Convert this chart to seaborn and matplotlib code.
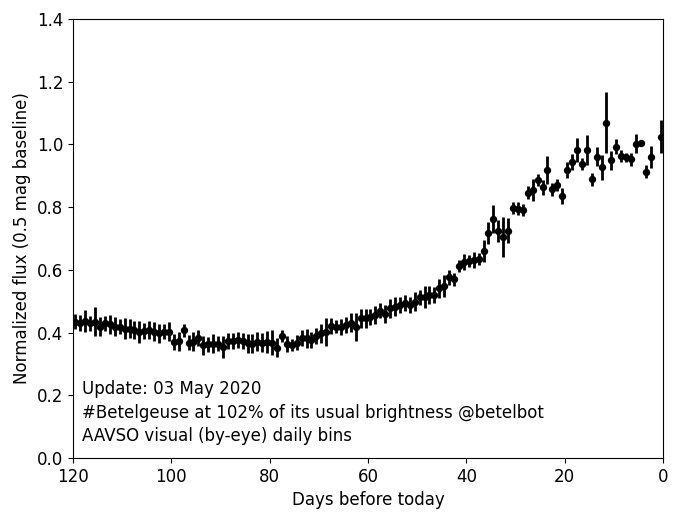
import numpy as np
import pandas as pd
import seaborn as sns
import matplotlib
matplotlib.use('Agg')
import matplotlib.pyplot as plt

# daily bins, days before today (bin centre = day + 0.5), day 1 has no data
days = [119, 118, 117, 116, 115, 114, 113, 112, 111, 110,
        109, 108, 107, 106, 105, 104, 103, 102, 101, 100,
        99, 98, 97, 96, 95, 94, 93, 92, 91, 90,
        89, 88, 87, 86, 85, 84, 83, 82, 81, 80,
        79, 78, 77, 76, 75, 74, 73, 72, 71, 70,
        69, 68, 67, 66, 65, 64, 63, 62, 61, 60,
        59, 58, 57, 56, 55, 54, 53, 52, 51, 50,
        49, 48, 47, 46, 45, 44, 43, 42, 41, 40,
        39, 38, 37, 36, 35, 34, 33, 32, 31, 30,
        29, 28, 27, 26, 25, 24, 23, 22, 21, 20,
        19, 18, 17, 16, 15, 14, 13, 12, 11, 10,
        9, 8, 7, 6, 5, 4, 3, 2, 0]

flux = [0.435, 0.431, 0.438, 0.429, 0.435, 0.419, 0.429, 0.427, 0.419, 0.419,
        0.413, 0.413, 0.408, 0.403, 0.406, 0.408, 0.403, 0.398, 0.403, 0.403,
        0.370, 0.372, 0.407, 0.368, 0.371, 0.382, 0.360, 0.362, 0.365, 0.365,
        0.355, 0.374, 0.374, 0.376, 0.374, 0.366, 0.364, 0.371, 0.368, 0.371,
        0.368, 0.352, 0.389, 0.364, 0.360, 0.368, 0.382, 0.382, 0.376, 0.389,
        0.398, 0.403, 0.421, 0.419, 0.417, 0.424, 0.432, 0.419, 0.445, 0.445,
        0.450, 0.456, 0.470, 0.459, 0.477, 0.483, 0.488, 0.495, 0.488, 0.498,
        0.512, 0.514, 0.520, 0.520, 0.541, 0.548, 0.576, 0.570, 0.612, 0.626,
        0.629, 0.631, 0.634, 0.661, 0.718, 0.761, 0.725, 0.706, 0.725, 0.797,
        0.795, 0.791, 0.846, 0.855, 0.886, 0.863, 0.918, 0.857, 0.870, 0.835,
        0.918, 0.945, 0.982, 0.937, 0.982, 0.889, 0.961, 0.927, 1.069, 0.950,
        0.993, 0.963, 0.959, 0.952, 1.003, 1.005, 0.913, 0.961, 1.025]

err = [0.025, 0.025, 0.035, 0.025, 0.045, 0.030, 0.025, 0.030, 0.030, 0.025,
       0.035, 0.030, 0.030, 0.035, 0.025, 0.030, 0.030, 0.030, 0.025, 0.030,
       0.025, 0.030, 0.020, 0.025, 0.030, 0.025, 0.030, 0.025, 0.030, 0.025,
       0.035, 0.025, 0.025, 0.025, 0.025, 0.030, 0.030, 0.030, 0.030, 0.035,
       0.040, 0.030, 0.020, 0.025, 0.020, 0.025, 0.025, 0.030, 0.025, 0.025,
       0.030, 0.045, 0.025, 0.020, 0.025, 0.025, 0.030, 0.045, 0.030, 0.030,
       0.025, 0.030, 0.025, 0.030, 0.030, 0.030, 0.025, 0.025, 0.025, 0.030,
       0.025, 0.035, 0.030, 0.025, 0.030, 0.035, 0.025, 0.020, 0.020, 0.025,
       0.020, 0.025, 0.020, 0.035, 0.035, 0.045, 0.035, 0.064, 0.040, 0.020,
       0.020, 0.020, 0.020, 0.035, 0.020, 0.025, 0.045, 0.020, 0.020, 0.025,
       0.025, 0.025, 0.037, 0.020, 0.048, 0.020, 0.030, 0.040, 0.097, 0.030,
       0.025, 0.020, 0.015, 0.020, 0.030, 0.006, 0.020, 0.035, 0.052]

update_text = ('Update: 03 May 2020\n'
               '#Betelgeuse at 102% of its usual brightness @betelbot\n'
               'AAVSO visual (by-eye) daily bins')

df = pd.DataFrame({'day': np.array(days) + 0.5, 'flux': flux, 'err': err})

sns.set_style('ticks')
plt.rcParams['font.family'] = ['DejaVu Sans']
plt.rcParams['font.size'] = 12
plt.rcParams['text.color'] = 'black'
plt.rcParams['axes.labelcolor'] = 'black'
plt.rcParams['xtick.major.size'] = 3.5
plt.rcParams['ytick.major.size'] = 3.5
plt.rcParams['xtick.major.width'] = 0.8
plt.rcParams['ytick.major.width'] = 0.8
plt.rcParams['axes.linewidth'] = 0.8
plt.rcParams['axes.edgecolor'] = 'black'
plt.rcParams['xtick.color'] = 'black'
plt.rcParams['ytick.color'] = 'black'

fig = plt.figure(figsize=(6.8, 5.21), dpi=100)
ax = fig.add_axes([0.1074, 0.1209, 0.8676, 0.8426])

ax.errorbar(df['day'], df['flux'], yerr=df['err'], fmt='none',
            ecolor='black', elinewidth=2, capsize=0)
sns.scatterplot(data=df, x='day', y='flux', color='black', s=28,
                edgecolor='black', linewidth=0, ax=ax, zorder=3)

ax.set_xlim(120, 0)
ax.set_ylim(0, 1.4)
ax.set_xticks([120, 100, 80, 60, 40, 20, 0])
ax.set_yticks([0.0, 0.2, 0.4, 0.6, 0.8, 1.0, 1.2, 1.4])
ax.tick_params(labelsize=12)
ax.set_xlabel('Days before today', fontsize=12)
ax.set_ylabel('Normalized flux (0.5 mag baseline)', fontsize=12)

ax.text(0.016, 0.03, update_text, transform=ax.transAxes,
        ha='left', va='bottom', fontsize=12, linespacing=1.38)

plt.savefig('out.png', dpi=100)
